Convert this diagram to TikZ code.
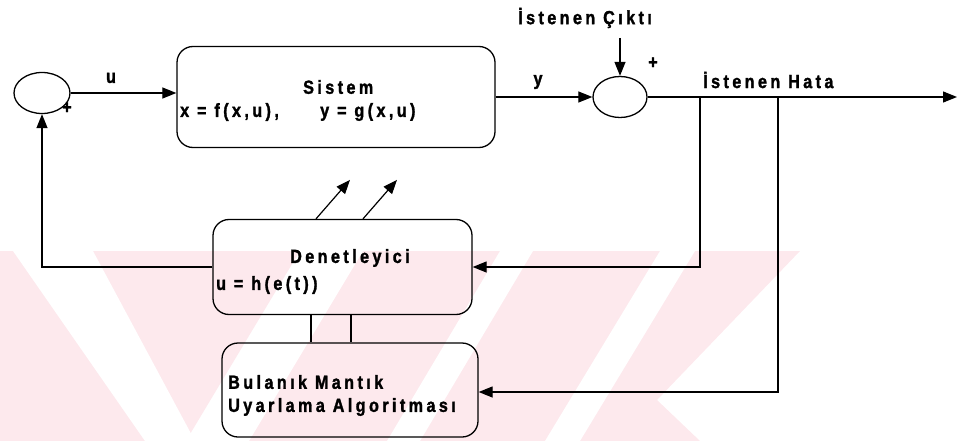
\documentclass[tikz,border=0pt]{standalone}
\usepackage{fontspec}
\newfontfamily\lblfont[LetterSpace=18,FakeStretch=0.85,FakeBold=1.6]{Liberation Sans}
\usetikzlibrary{arrows.meta,shapes.geometric}
\definecolor{wm}{RGB}{253,233,237}
\tikzset{
  blk/.style={draw, line width=1.3pt, rounded corners=16pt, inner sep=0pt},
  sumc/.style={draw, ellipse, line width=1.3pt, inner sep=0pt},
  lbl/.style={inner sep=0pt, font=\lblfont\bfseries\fontsize{19}{21}\selectfont},
  conn/.style={line width=1.2pt},
  arr/.style={conn, -{Triangle[length=14pt,width=11pt]}},
}
\begin{document}
\begin{tikzpicture}[x=1pt,y=-1pt]
\useasboundingbox (0,0) rectangle (963,441);
% watermark
\begin{scope}
\clip (0,251) rectangle (963,441);
\fill[wm] (0,251) -- (800,251) -- (657,400) -- (700,441) -- (0,441) -- cycle;
\fill[white] (13,251) -- (93,251) -- (195,441) -- (145,441) -- cycle;
\fill[white] (300,251) -- (363,251) -- (249,441) -- (186,441) -- cycle;
\fill[white] (500,251) -- (533,251) -- (420,441) -- (387,441) -- cycle;
\fill[white] (660,251) -- (695,251) -- (580,441) -- (545,441) -- cycle;
\end{scope}
% blocks
\node[sumc, minimum width=56pt, minimum height=41pt] (s1) at (42,93) {};
\node[sumc, minimum width=54pt, minimum height=41pt] (s2) at (620,97) {};
\node[blk, minimum width=318pt, minimum height=101pt] (sys) at (336,97) {};
\node[blk, minimum width=259pt, minimum height=95pt] (den) at (342.5,267) {};
\node[blk, minimum width=256pt, minimum height=94pt] (bul) at (350,390) {};
% labels
\node[lbl] (tu) at (111,78) {u};
\node[lbl, anchor=west] (tsis) at (303,87) {Sistem};
\node[lbl, anchor=west] (teq1) at (180,112) {x = f(x,u),};
\node[lbl, anchor=west] (teq2) at (320,112) {y = g(x,u)};
\node[lbl] (ty) at (538,82) {y};
\node[lbl, anchor=west] (tic) at (518,18) {İstenen Çıktı};
\node[lbl] (tp1) at (67,108) {+};
\node[lbl] (tp2) at (653,63) {+};
\node[lbl, anchor=west] (th) at (703,80) {İstenen Hata};
\node[lbl, anchor=west] (tden) at (290,258) {Denetleyici};
\node[lbl, anchor=west] (tuh) at (216,285) {u = h(e(t))};
\node[lbl, anchor=west] (tb1) at (228,382) {Bulanık Mantık};
\node[lbl, anchor=west] (tb2) at (228,407) {Uyarlama Algoritması};
% coordinates
\coordinate (ic) at (620,38);
\coordinate (out) at (957,97);
\coordinate (b1) at (700,97);
\coordinate (b2) at (778,97);
\coordinate (b2d) at (778,392);
% connectors
\draw[arr] (s1.east) -- (s1.east -| sys.west);
\draw[arr] (sys.east) -- (s2.west);
\draw[arr] (ic) -- (s2.north);
\draw[arr] (s2.east) -- (out);
\draw[arr] (b1) -- (b1 |- den.east) -- (den.east);
\draw[arr] (b2) -- (b2d) -- (b2d -| bul.east);
\draw[arr] (den.west) -| (s1.south);
\draw[arr] ([xshift=-26.5pt]den.north) -- ++(34,-39);
\draw[arr] ([xshift=20.5pt]den.north) -- ++(34,-39);
\draw[conn] ([xshift=-31.5pt]den.south) -- ([xshift=-31.5pt]den.south |- bul.north);
\draw[conn] ([xshift=8.5pt]den.south) -- ([xshift=8.5pt]den.south |- bul.north);
\end{tikzpicture}
\end{document}
